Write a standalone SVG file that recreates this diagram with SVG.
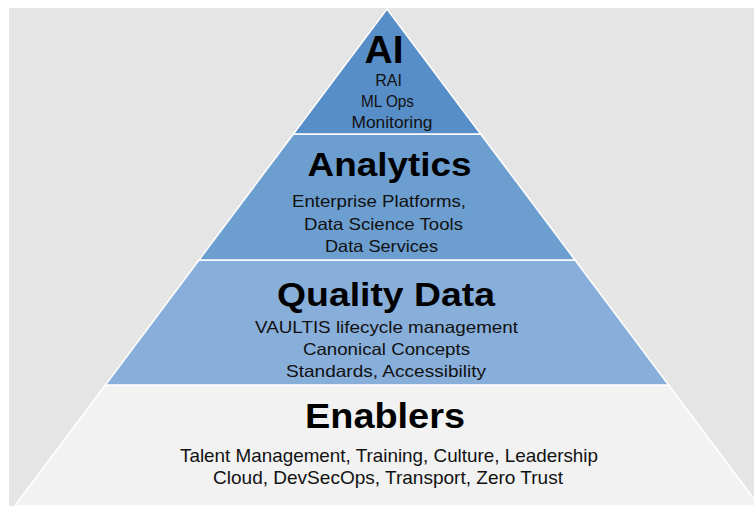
<svg xmlns="http://www.w3.org/2000/svg" width="754" height="506" viewBox="0 0 754 506">
<style>
.band{stroke:#ffffff;stroke-width:1.5;stroke-linejoin:miter}
.title{font-family:"Liberation Sans",Arial,sans-serif;font-weight:bold;fill:#000;text-anchor:middle}
.sub{font-family:"Liberation Sans",Arial,sans-serif;fill:#111;text-anchor:middle}
</style>
<rect x="0" y="0" width="754" height="506" fill="#ffffff"/>
<rect x="9" y="8" width="745" height="498" fill="#e5e5e5"/>
<g id="enablers">
<polygon class="band" points="105.4,385 668.6,385 759.3,506 14.7,506" fill="#f2f2f2"/>
<text class="title" x="385" y="428" font-size="35" textLength="160" lengthAdjust="spacingAndGlyphs">Enablers</text>
<text class="sub" x="389" y="462" font-size="18.5" textLength="418" lengthAdjust="spacingAndGlyphs">Talent Management, Training, Culture, Leadership</text>
<text class="sub" x="388" y="484" font-size="18.5" textLength="350" lengthAdjust="spacingAndGlyphs">Cloud, DevSecOps, Transport, Zero Trust</text>
</g>
<g id="quality-data">
<polygon class="band" points="199,260 575,260 668.6,385 105.4,385" fill="#88aeda"/>
<text class="title" x="386" y="306" font-size="34" textLength="218" lengthAdjust="spacingAndGlyphs">Quality Data</text>
<text class="sub" x="386.5" y="333" font-size="16.5" textLength="263" lengthAdjust="spacingAndGlyphs">VAULTIS lifecycle management</text>
<text class="sub" x="386.5" y="355" font-size="16.5" textLength="167" lengthAdjust="spacingAndGlyphs">Canonical Concepts</text>
<text class="sub" x="386" y="377" font-size="16.5" textLength="200" lengthAdjust="spacingAndGlyphs">Standards, Accessibility</text>
</g>
<g id="analytics">
<polygon class="band" points="293.4,134 480.6,134 575,260 199,260" fill="#6c9ed0"/>
<text class="title" x="389.5" y="176" font-size="33" textLength="164" lengthAdjust="spacingAndGlyphs">Analytics</text>
<text class="sub" x="379" y="207" font-size="16.5" textLength="174" lengthAdjust="spacingAndGlyphs">Enterprise Platforms,</text>
<text class="sub" x="383.5" y="230" font-size="16.5" textLength="159" lengthAdjust="spacingAndGlyphs">Data Science Tools</text>
<text class="sub" x="381.5" y="252" font-size="16.5" textLength="113" lengthAdjust="spacingAndGlyphs">Data Services</text>
</g>
<g id="ai">
<polygon class="band" points="387,9 480.6,134 293.4,134" fill="#588ec7"/>
<text class="title" x="384" y="63" font-size="39">AI</text>
<text class="sub" x="388.5" y="86" font-size="16">RAI</text>
<text class="sub" x="387.5" y="107" font-size="16" textLength="53" lengthAdjust="spacingAndGlyphs">ML Ops</text>
<text class="sub" x="392" y="128" font-size="16" textLength="81" lengthAdjust="spacingAndGlyphs">Monitoring</text>
</g>
<g id="connectors"/>
</svg>
